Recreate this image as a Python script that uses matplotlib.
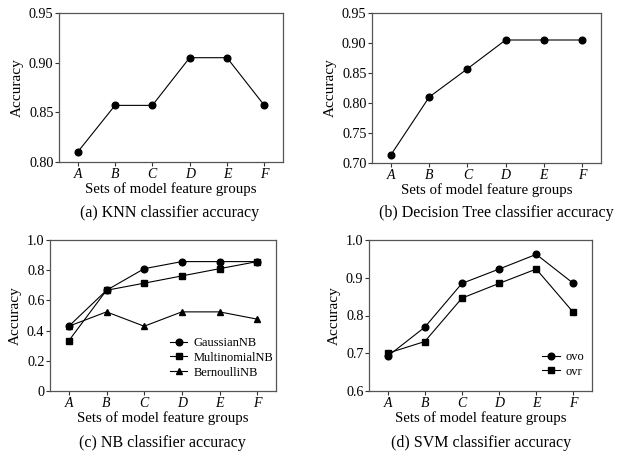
import matplotlib
matplotlib.use('Agg')
import matplotlib.pyplot as plt

plt.rcParams['font.family'] = ['Liberation Serif', 'DejaVu Serif']

groups = ['A', 'B', 'C', 'D', 'E', 'F']

knn_acc = [0.810, 0.857, 0.857, 0.905, 0.905, 0.857]
tree_acc = [0.714, 0.810, 0.857, 0.905, 0.905, 0.905]

gaussian_nb = [0.429, 0.667, 0.810, 0.857, 0.857, 0.857]
multinomial_nb = [0.333, 0.667, 0.714, 0.762, 0.810, 0.857]
bernoulli_nb = [0.429, 0.524, 0.429, 0.524, 0.524, 0.476]

svm_ovo = [0.692, 0.769, 0.885, 0.923, 0.962, 0.885]
svm_ovr = [0.700, 0.731, 0.846, 0.885, 0.923, 0.808]

W, H = 617, 455


def make_axes(fig, left, top, right, bottom):
    return fig.add_axes([left / W, 1 - bottom / H, (right - left) / W, (bottom - top) / H])


def style(ax, yticks, ylabels):
    xs = range(len(groups))
    ax.set_xlim(-0.5, 5.5)
    ax.set_ylim(yticks[0], yticks[-1])
    ax.set_xticks(list(xs))
    ax.set_xticklabels(groups, fontstyle='italic', fontsize=10)
    ax.set_yticks(yticks)
    ax.set_yticklabels(ylabels, fontsize=10.2)
    for s in ax.spines.values():
        s.set_color('#555555')
        s.set_linewidth(0.9)
    ax.tick_params(direction='out', length=3, width=0.8, pad=1, colors='#333333', labelcolor='black')
    ax.set_xlabel('Sets of model feature groups', fontsize=10.7, labelpad=1)
    ax.set_ylabel('Accuracy', fontsize=11, labelpad=4)


def add_legend(ax, left, top):
    ax.legend(loc='upper left', bbox_to_anchor=(left / W, 1 - top / H),
              bbox_transform=fig.transFigure, frameon=False, fontsize=9,
              handlelength=1.4, handletextpad=0.5, labelspacing=0.22,
              borderpad=0.4, borderaxespad=0)


fig = plt.figure(figsize=(W / 100, H / 100), dpi=100)
line_kw = dict(color='black', linewidth=0.8, markersize=4.8)
cap_kw = dict(ha='center', va='center', fontsize=11.5)

ax1 = make_axes(fig, 59, 13, 283, 162)
ax1.plot(range(6), knn_acc, marker='o', **line_kw)
style(ax1, [0.80, 0.85, 0.90, 0.95], ['0.80', '0.85', '0.90', '0.95'])
fig.text(170 / W, 1 - 213 / H, '(a) KNN classifier accuracy', **cap_kw)

ax2 = make_axes(fig, 372, 13, 601, 163)
ax2.plot(range(6), tree_acc, marker='o', **line_kw)
style(ax2, [0.70, 0.75, 0.80, 0.85, 0.90, 0.95], ['0.70', '0.75', '0.80', '0.85', '0.90', '0.95'])
fig.text(496 / W, 1 - 213 / H, '(b) Decision Tree classifier accuracy', **cap_kw)

ax3 = make_axes(fig, 50, 240, 276, 391)
ax3.plot(range(6), gaussian_nb, marker='o', label='GaussianNB', **line_kw)
ax3.plot(range(6), multinomial_nb, marker='s', label='MultinomialNB', **line_kw)
ax3.plot(range(6), bernoulli_nb, marker='^', label='BernoulliNB', **line_kw)
style(ax3, [0, 0.2, 0.4, 0.6, 0.8, 1.0], ['0', '0.2', '0.4', '0.6', '0.8', '1.0'])
add_legend(ax3, 165, 332)
fig.text(162 / W, 1 - 443 / H, '(c) NB classifier accuracy', **cap_kw)

ax4 = make_axes(fig, 369, 240, 592, 391)
ax4.plot(range(6), svm_ovo, marker='o', label='ovo', **line_kw)
ax4.plot(range(6), svm_ovr, marker='s', label='ovr', **line_kw)
style(ax4, [0.6, 0.7, 0.8, 0.9, 1.0], ['0.6', '0.7', '0.8', '0.9', '1.0'])
add_legend(ax4, 537, 346)
fig.text(481 / W, 1 - 443 / H, '(d) SVM classifier accuracy', **cap_kw)

fig.savefig('out.png', dpi=100)
